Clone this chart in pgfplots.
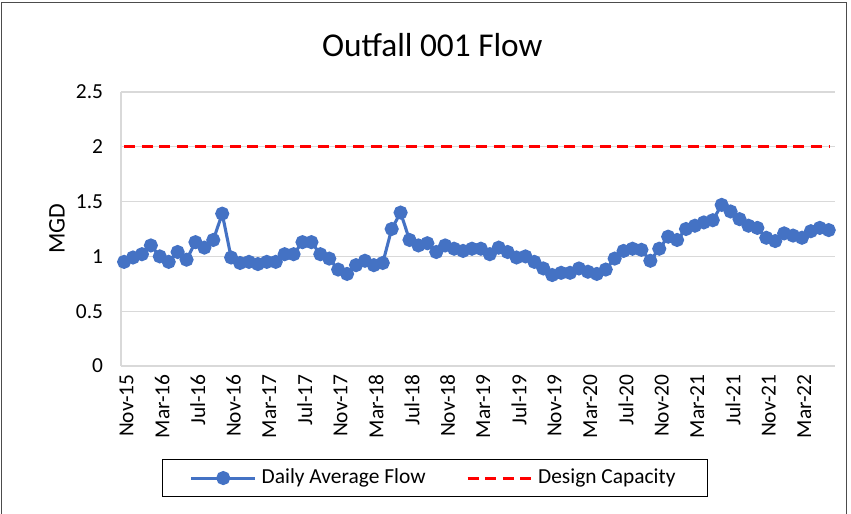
\documentclass[border=0pt]{standalone}
\usepackage{pgfplots}
\pgfplotsset{compat=1.18}
\usepackage{pgfplotstable}
\usepackage{fontspec}
\setmainfont{Carlito}
\definecolor{xblue}{HTML}{4472C4}
\definecolor{xgrid}{HTML}{D9D9D9}

\pgfplotstableread{
i v
0 0.95
1 0.99
2 1.02
3 1.10
4 1.00
5 0.95
6 1.04
7 0.97
8 1.13
9 1.08
10 1.15
11 1.39
12 0.99
13 0.94
14 0.95
15 0.93
16 0.95
17 0.95
18 1.02
19 1.02
20 1.13
21 1.13
22 1.02
23 0.98
24 0.88
25 0.84
26 0.92
27 0.96
28 0.92
29 0.94
30 1.25
31 1.40
32 1.15
33 1.10
34 1.12
35 1.04
36 1.10
37 1.07
38 1.05
39 1.07
40 1.07
41 1.02
42 1.08
43 1.04
44 0.99
45 1.00
46 0.95
47 0.89
48 0.83
49 0.85
50 0.85
51 0.89
52 0.86
53 0.84
54 0.88
55 0.98
56 1.05
57 1.07
58 1.06
59 0.96
60 1.07
61 1.18
62 1.15
63 1.25
64 1.28
65 1.31
66 1.33
67 1.47
68 1.41
69 1.34
70 1.28
71 1.26
72 1.17
73 1.14
74 1.21
75 1.19
76 1.17
77 1.23
78 1.26
79 1.24
}\flowdata

\begin{document}
\begin{tikzpicture}
\useasboundingbox (-50.84pt,-62.19pt) rectangle (306.75pt,153.79pt);
\draw[black!70, line width=0.5pt] (-50.3pt,-70pt) rectangle (304.9pt,152.6pt);
\begin{axis}[
  at={(0pt,0pt)}, anchor=south west,
  scale only axis, width=300pt, height=115.13pt,
  xmin=-0.35, xmax=79.7, ymin=0, ymax=2.5,
  ytick={0,0.5,1,1.5,2,2.5},
  xtick={0,4,...,76},
  xticklabels={Nov-15,Mar-16,Jul-16,Nov-16,Mar-17,Jul-17,Nov-17,Mar-18,Jul-18,Nov-18,Mar-19,Jul-19,Nov-19,Mar-20,Jul-20,Nov-20,Mar-21,Jul-21,Nov-21,Mar-22},
  x tick label style={rotate=90, anchor=east, font=\fontsize{9}{10}\selectfont, yshift=-1pt},
  y tick label style={font=\fontsize{9}{10}\selectfont, xshift=-4pt},
  /pgf/number format/assume math mode=true,
  ymajorgrids, grid style={xgrid, line width=0.5pt},
  axis x line*=bottom, axis y line*=left,
  axis line style={xgrid, line width=0.6pt},
  major tick length=0pt,
  legend columns=2,
  legend style={at={(0.4397,-0.409)}, anchor=center, draw=black, line width=0.5pt,
    font=\fontsize{9}{10}\selectfont, inner xsep=11.5pt, inner ysep=2pt,
    /tikz/every even column/.append style={column sep=15pt}},
  legend cell align=left,
  legend image code/.code={\draw[#1, mark repeat=2, mark phase=2] plot coordinates {(0pt,0pt) (13.5pt,0pt) (27pt,0pt)};},
]
\addplot[color=xblue, line width=1.3pt, mark=*, mark size=2.3pt, mark options={solid, fill=xblue}] table[x=i, y=v] {\flowdata};
\addlegendentry{Daily Average Flow}
\addplot[color=red, line width=1.3pt, dash pattern=on 4.6pt off 2.8pt] coordinates {(0,2) (79,2)};
\addlegendentry{Design Capacity}
\end{axis}
\node[font=\fontsize{14}{16}\selectfont] at (130.8pt,134.9pt) {Outfall 001 Flow};
\node[font=\fontsize{10}{12}\selectfont, rotate=90] at (-26.9pt,57.6pt) {MGD};
\end{tikzpicture}
\end{document}
